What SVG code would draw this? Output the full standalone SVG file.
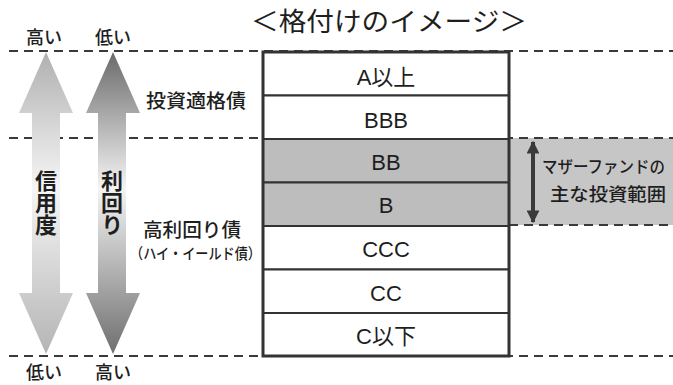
<svg xmlns="http://www.w3.org/2000/svg" width="673" height="385" viewBox="0 0 673 385">
<style>
text{font-family:"Noto Sans CJK JP","Noto Sans",sans-serif;fill:#1e1e1e;font-weight:500}
.dash{stroke:#3a3a3a;stroke-width:2;stroke-dasharray:9 6;fill:none}
.cell{stroke:#333;stroke-width:2}
.lbl{font-family:"Liberation Sans","Noto Sans CJK JP",sans-serif;font-size:22px;text-anchor:middle;font-weight:normal}
.big{font-size:19.5px}
.sm{font-size:18px}
.vert{font-size:22px;font-weight:bold;writing-mode:vertical-rl;text-anchor:start}
</style>
<defs>
<linearGradient id="g1" x1="0" y1="52" x2="0" y2="355" gradientUnits="userSpaceOnUse">
<stop offset="0" stop-color="#b0b0b0"/>
<stop offset="0.45" stop-color="#f6f6f6"/>
<stop offset="1" stop-color="#b4b4b4"/>
</linearGradient>
<linearGradient id="g2" x1="0" y1="52" x2="0" y2="355" gradientUnits="userSpaceOnUse">
<stop offset="0" stop-color="#6a6a6a"/>
<stop offset="0.45" stop-color="#f4f4f4"/>
<stop offset="1" stop-color="#6e6e6e"/>
</linearGradient>
<marker id="ah" viewBox="0 0 10 10" refX="9" refY="5" markerWidth="3.2" markerHeight="3.2" orient="auto-start-reverse">
<path d="M0,0 L10,5 L0,10 z" fill="#3a3a3a"/>
</marker>
</defs>

<text x="389" y="31" style="font-size:26px;font-weight:normal" text-anchor="middle" textLength="276" lengthAdjust="spacingAndGlyphs">＜格付けのイメージ＞</text>

<g id="band">
<rect x="509" y="138" width="164" height="87" fill="#c6c6c6"/>
</g>

<g id="guides">
<line class="dash" x1="9" y1="51" x2="673" y2="51"/>
<line class="dash" x1="9" y1="138" x2="673" y2="138"/>
<line class="dash" x1="509" y1="225" x2="673" y2="225"/>
<line class="dash" x1="9" y1="356" x2="673" y2="356"/>
</g>

<g id="arrow-credit">
<path d="M46,52 L73,113 L60,113 L60,293 L73,293 L46,354 L19,293 L32,293 L32,113 L19,113 Z" fill="url(#g1)"/>
<text class="vert" x="46" y="170">信用度</text>
</g>
<g id="arrow-yield">
<path d="M113,52 L140,113 L126,113 L126,293 L140,293 L113,354 L86,293 L98,293 L98,113 L86,113 Z" fill="url(#g2)"/>
<text class="vert" x="112" y="170">利回り</text>
</g>

<g id="scale-labels">
<text class="sm" x="26" y="44">高い</text>
<text class="sm" x="95" y="44">低い</text>
<text class="sm" x="26" y="379">低い</text>
<text class="sm" x="95" y="379">高い</text>
</g>

<g id="label-ig"><text class="big" x="146" y="108" textLength="100" lengthAdjust="spacingAndGlyphs">投資適格債</text></g>
<g id="label-hy">
<text class="big" x="143" y="237" textLength="98" lengthAdjust="spacingAndGlyphs">高利回り債</text>
<text x="130" y="259" style="font-size:15px" textLength="131" lengthAdjust="spacingAndGlyphs">（ハイ・イールド債）</text>
</g>

<g id="table">
<g id="r-a"><rect class="cell" x="263" y="52" width="246" height="43.5" fill="#fff"/><text class="lbl" x="386" y="85">A以上</text></g>
<g id="r-bbb"><rect class="cell" x="263" y="95.5" width="246" height="43.5" fill="#fff"/><text class="lbl" x="386" y="128">BBB</text></g>
<g id="r-bb"><rect class="cell" x="263" y="139" width="246" height="43.5" fill="#bdbdbd"/><text class="lbl" x="386" y="170">BB</text></g>
<g id="r-b"><rect class="cell" x="263" y="182.5" width="246" height="43.5" fill="#bdbdbd"/><text class="lbl" x="386" y="213">B</text></g>
<g id="r-ccc"><rect class="cell" x="263" y="226" width="246" height="43.5" fill="#fff"/><text class="lbl" x="386" y="257">CCC</text></g>
<g id="r-cc"><rect class="cell" x="263" y="269.5" width="246" height="43.5" fill="#fff"/><text class="lbl" x="386" y="301">CC</text></g>
<g id="r-c"><rect class="cell" x="263" y="313" width="246" height="43" fill="#fff"/><text class="lbl" x="386" y="344">C以下</text></g>
<rect x="263" y="52" width="246" height="304" fill="none" stroke="#333" stroke-width="3"/>
</g>

<g id="connectors">
<line x1="533" y1="142" x2="533" y2="222" stroke="#3a3a3a" stroke-width="4" marker-start="url(#ah)" marker-end="url(#ah)"/>
</g>

<g id="range-label">
<text x="542" y="173" style="font-size:16.5px" textLength="123" lengthAdjust="spacingAndGlyphs">マザーファンドの</text>
<text x="550" y="201" style="font-size:18.5px" textLength="116" lengthAdjust="spacingAndGlyphs">主な投資範囲</text>
</g>
</svg>
